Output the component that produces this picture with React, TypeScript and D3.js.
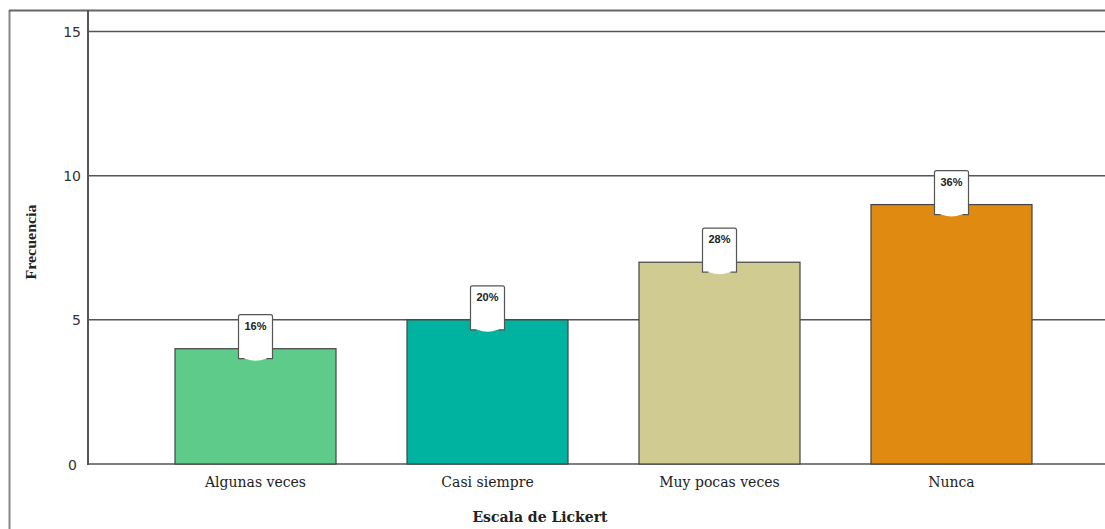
import React from "react";
import * as d3 from "d3";

const categories = ["Algunas veces", "Casi siempre", "Muy pocas veces", "Nunca"];
const frequencies = [4, 5, 7, 9];
const percentLabels = ["16%", "20%", "28%", "36%"];
const barColors = ["#5ECB8A", "#00B3A0", "#D0CC91", "#E08A12"];
const yTicks = [0, 5, 10, 15];

const W = 1105;
const H = 529;
const plotLeft = 88;
const plotTop = 10;
const plotBottom = 464;

export default function App() {
  const x = d3
    .scaleBand<string>()
    .domain(categories)
    .range([plotLeft, 1119])
    .paddingInner(0.306)
    .paddingOuter(0.375);
  const y = d3.scaleLinear().domain([0, 15.75]).range([plotBottom, plotTop]);

  const boxW = 34;
  const boxAbove = 34;
  const boxBelow = 10;

  return (
    <svg
      width={W}
      height={H}
      style={{ position: "fixed", left: 0, top: 0, background: "#fff" }}
    >
      <rect x={0} y={0} width={W} height={H} fill="#fff" />
      {/* outer frame */}
      <line x1={9.5} y1={10} x2={9.5} y2={H} stroke="#888" strokeWidth={2} />
      <line x1={9} y1={10.5} x2={W} y2={10.5} stroke="#666" strokeWidth={2} />

      {/* gridlines */}
      {yTicks.map((t) => (
        <line
          key={t}
          x1={plotLeft}
          x2={W}
          y1={y(t)}
          y2={y(t)}
          stroke="#555"
          strokeWidth={1.5}
        />
      ))}
      {/* y tick labels */}
      {yTicks.map((t) => (
        <text
          key={"t" + t}
          x={t === 0 ? 77 : 81}
          y={y(t) + (t === 0 ? 6 : 5)}
          textAnchor="end"
          fontFamily="'DejaVu Sans', Verdana, sans-serif"
          fontSize={14}
          fill="#333"
        >
          {t}
        </text>
      ))}

      {/* bars */}
      {categories.map((c, i) => (
        <rect
          key={c}
          x={x(c)}
          y={y(frequencies[i])}
          width={x.bandwidth()}
          height={plotBottom - y(frequencies[i])}
          fill={barColors[i]}
          stroke="#444"
          strokeWidth={1.2}
        />
      ))}

      {/* y axis line */}
      <line x1={plotLeft} x2={plotLeft} y1={plotTop} y2={plotBottom + 1} stroke="#555" strokeWidth={2} />

      {/* value callouts */}
      {categories.map((c, i) => {
        const cx = (x(c) as number) + x.bandwidth() / 2;
        const top = y(frequencies[i]) - boxAbove;
        const bottom = y(frequencies[i]) + boxBelow;
        const l = cx - boxW / 2;
        const r = cx + boxW / 2;
        const outline = `M${l},${bottom} L${l},${top + 2} Q${l},${top} ${l + 2},${top} L${r - 2},${top} Q${r},${top} ${r},${top + 2} L${r},${bottom} L${r - 7},${bottom} Q${cx},${bottom + 4} ${l + 7},${bottom} Z`;
        return (
          <g key={"lbl" + c}>
            <path d={outline} fill="#fff" stroke="none" />
            <path
              d={`M${l + 6},${bottom} L${l},${bottom} L${l},${top + 2} Q${l},${top} ${l + 2},${top} L${r - 2},${top} Q${r},${top} ${r},${top + 2} L${r},${bottom} L${r - 6},${bottom}`}
              fill="none"
              stroke="#555"
              strokeWidth={1.2}
            />
            <text
              x={cx}
              y={top + 15}
              textAnchor="middle"
              fontFamily="'Liberation Sans', Arial, sans-serif"
              fontSize={11}
              fontWeight={600}
              fill="#222"
            >
              {percentLabels[i]}
            </text>
          </g>
        );
      })}

      {/* category labels */}
      {categories.map((c) => (
        <text
          key={"x" + c}
          x={(x(c) as number) + x.bandwidth() / 2}
          y={487}
          textAnchor="middle"
          fontFamily="'DejaVu Serif', 'Liberation Serif', serif"
          fontSize={14}
          fill="#222"
        >
          {c}
        </text>
      ))}

      {/* axis titles */}
      <text
        x={540}
        y={522}
        textAnchor="middle"
        fontFamily="'DejaVu Serif', 'Liberation Serif', serif"
        fontWeight="bold"
        fontSize={14}
        fill="#222"
      >
        Escala de Lickert
      </text>
      <text
        transform="translate(36,242) rotate(-90)"
        textAnchor="middle"
        fontFamily="'Liberation Serif', serif"
        fontWeight="bold"
        fontSize={14}
        textLength={75}
        lengthAdjust="spacingAndGlyphs"
        fill="#222"
      >
        Frecuencia
      </text>
    </svg>
  );
}
